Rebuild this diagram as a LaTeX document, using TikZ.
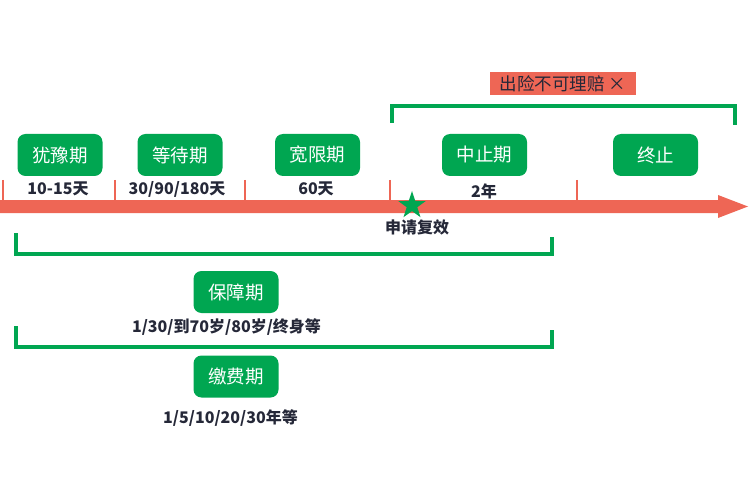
\documentclass[tikz,border=0pt]{standalone}
\usepackage{fontspec}
\setmainfont{Noto Sans CJK SC}
\usetikzlibrary{shapes.geometric}
\definecolor{tlgreen}{RGB}{0,166,81}
\definecolor{tlred}{RGB}{238,102,85}
\definecolor{tldark}{RGB}{37,40,56}
\tikzset{
  period/.style={fill=tlgreen, rounded corners=8pt, minimum width=85pt, minimum height=42pt,
    inner sep=0pt, text=white, font=\fontsize{18.5}{20}\selectfont},
  lab/.style={text=tldark, inner sep=0pt, font=\fontsize{16}{18}\selectfont\bfseries},
  tick/.style={draw=tlred, line width=1.5pt},
  bracket/.style={draw=tlgreen, line width=4pt},
}
\begin{document}
\begin{tikzpicture}[x=1pt,y=-1pt]
\useasboundingbox (0,0) rectangle (750,500);
% timeline arrow
\coordinate (a0) at (0,206.5);
\coordinate (tip) at (748,206.5);
\fill[tlred] (0,200) -- (718,200) -- (718,195) -- (tip) -- (718,218) -- (718,213) -- (0,213) -- cycle;
% ticks
\foreach \x in {3,115,245,390,577} \draw[tick] (\x,180) -- (\x,200);
% period boxes
\node[period] (p1) at (60,155) {犹豫期};
\node[period] (p2) at (180,155) {等待期};
\node[period] (p3) at (317.5,155) {宽限期};
\node[period] (p4) at (484.5,155) {中止期};
\node[period] (p5) at (655.5,155) {终止};
% labels
\node[lab] (l1) at (58,189) {10-15天};
\node[lab] (l2) at (177,189) {30/90/180天};
\node[lab] (l3) at (316,189) {60天};
\node[lab] (l4) at (484,191) {2年};
% star
\node[star, star points=5, star point ratio=2.6, fill=tlgreen, minimum size=29pt, inner sep=0pt] (st) at (412,205.5) {};
\node[lab] (sl) at (417,227) {申请复效};
% top bracket and red label
\draw[bracket] (392,123) -- (392,106) -- (735,106) -- (735,125);
\node[fill=tlred, minimum width=146pt, minimum height=23pt, inner sep=0pt, text=tldark,
  font=\fontsize{17.5}{19}\selectfont] (claim) at (563,83.5) {出险不可理赔 ×};
% lower bracket 1
\draw[bracket] (16,233) -- (16,254) -- (552,254) -- (552,237);
\node[period] (b1) at (236,292) {保障期};
\node[lab] (bl1) at (226.5,327) {1/30/到70岁/80岁/终身等};
% lower bracket 2
\draw[bracket] (16,326) -- (16,347) -- (552,347) -- (552,330);
\node[period] (b2) at (236,376.5) {缴费期};
\node[lab] (bl2) at (230.5,418) {1/5/10/20/30年等};
\end{tikzpicture}
\end{document}
